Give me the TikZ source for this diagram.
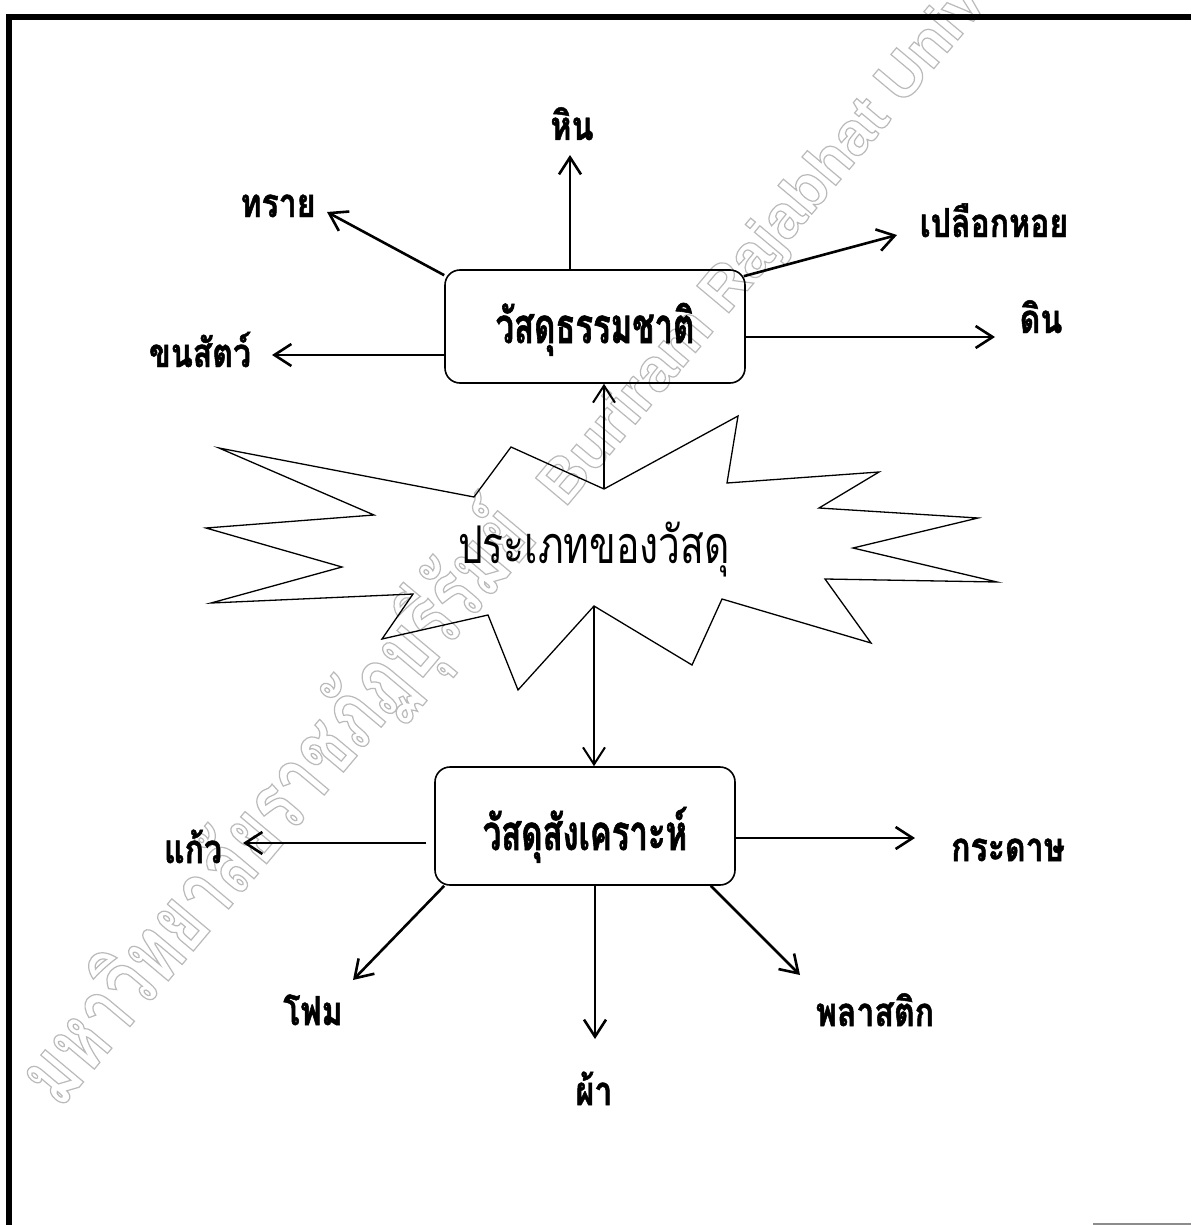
\documentclass[tikz,border=0pt]{standalone}
\usepackage{fontspec}
\newfontfamily\thaifont[Script=Thai,FakeStretch=0.8,BoldFeatures={FakeBold=1.2}]{Loma}
\newfontfamily\boxfont[Script=Thai,FakeStretch=0.67,BoldFeatures={FakeBold=1.2}]{Loma}
\newfontfamily\corefont[Script=Thai,FakeStretch=0.75]{Loma}
\newfontfamily\wmthai[Script=Thai,FakeStretch=0.72]{Loma}
\newfontfamily\wmlatin{Liberation Sans}
\usetikzlibrary{arrows.meta,calc}
\tikzset{
  lbl/.style={font=\thaifont\bfseries\fontsize{40}{44}\selectfont, inner sep=0pt, anchor=base},
  boxnode/.style={draw, line width=1.6pt, rounded corners=15pt, minimum width=300pt, inner sep=0pt,
                  font=\boxfont\bfseries\fontsize{49}{54}\selectfont},
  arr/.style={line width=2.6pt, -{Straight Barb[length=17pt,width=22pt]}},
  starline/.style={line width=1.3pt, line join=miter},
  wm/.style={text=black!27, inner sep=0pt, anchor=base west},
}
\begin{document}
\begin{tikzpicture}[x=1pt,y=-1pt]
\useasboundingbox (0,0) rectangle (1191,1225);
\fill[white] (0,0) rectangle (1191,1225);

% watermark (outlined)
\begin{scope}
\clip (0,0) rectangle (1191,1225);
\node[wm, rotate=50] (wmark) at (60,1110)
  {\special{pdf:literal direct 1 Tr 1.2 w}{\wmthai\bfseries\fontsize{90}{94}\selectfont มหาวิทยาลัยราชภัฏบุรีรัมย์}\hspace{40pt}{\wmlatin\bfseries\fontsize{61}{64}\selectfont Buriram Rajabhat University}\special{pdf:literal direct 0 Tr}};
\end{scope}

% frame
\draw[line width=5.5pt] (9,1225) -- (9,17) -- (1191,17);
\draw[black!45, line width=1.5pt] (1093,1224) -- (1191,1224);

% star
\draw[starline, fill=none]
  (219,448) -- (374,515) -- (206,528) -- (342,567) -- (211,603) -- (413,594) --
  (382,639) -- (488,615) -- (518,690) -- (594,606) -- (692,665) -- (722,599) --
  (871,643) -- (825,579) -- (997,582) -- (853,548) -- (978,518) -- (819,508) --
  (879,472) -- (727,483) -- (738,416) -- (604,489) -- (511,447) -- (474,497) -- cycle;
\coordinate (sTop) at (604,489);
\coordinate (sBot) at (594,606);
\node[font=\corefont\fontsize{52}{56}\selectfont, inner sep=0pt, anchor=base] (core) at (594,563) {ประเภทของวัสดุ};

% boxes
\node[boxnode, minimum height=113pt, text height=40pt, text depth=7pt] (nat) at (595,326.5) {วัสดุธรรมชาติ};
\node[boxnode, minimum height=118pt, text height=52pt, text depth=4pt] (syn) at (585,826) {วัสดุสังเคราะห์};

% labels
\node[lbl] (hin) at (572,140) {หิน};
\node[lbl] (sai) at (278,217) {ทราย};
\node[lbl] (khon) at (200,367) {ขนสัตว์};
\node[lbl] (plueak) at (994,237) {เปลือกหอย};
\node[lbl] (din) at (1041,333) {ดิน};
\node[lbl] (kaeo) at (193,863) {แก้ว};
\node[lbl] (foam) at (313,1025) {โฟม};
\node[lbl] (pha) at (594,1105) {ผ้า};
\node[lbl] (plastic) at (875,1026) {พลาสติก};
\node[lbl] (kradat) at (1008,861) {กระดาษ};

% arrow tips
\coordinate (tHin) at (570,155);
\coordinate (tSai) at (327,212);
\coordinate (tKhon) at (272,355);
\coordinate (tPlueak) at (897,235);
\coordinate (tDin) at (995,337);
\coordinate (tKaeo) at (243,843);
\coordinate (tFoam) at (353,980);
\coordinate (tPha) at (595,1039);
\coordinate (tPlastic) at (800,975);
\coordinate (tKradat) at (915,838);

% connectors
\draw[arr] (nat.north -| tHin) -- (tHin);
\draw[arr] ($(nat.north west)+(0,6)$) -- (tSai);
\draw[arr] (nat.west |- tKhon) -- (tKhon);
\draw[arr] ($(nat.north east)+(-2,7)$) -- (tPlueak);
\draw[arr] (nat.east |- tDin) -- (tDin);
\draw[arr, line width=2pt] (sTop) -- (sTop |- nat.south);
\draw[arr, line width=2pt] (sBot) -- (sBot |- syn.north);
\draw[arr] ($(syn.west |- tKaeo)+(-8,0)$) -- (tKaeo);
\draw[arr] ($(syn.south west)+(10,0)$) -- (tFoam);
\draw[arr] (syn.south -| tPha) -- (tPha);
\draw[arr] ($(syn.south east)+(-25,0)$) -- (tPlastic);
\draw[arr] (syn.east |- tKradat) -- (tKradat);
\end{tikzpicture}
\end{document}
